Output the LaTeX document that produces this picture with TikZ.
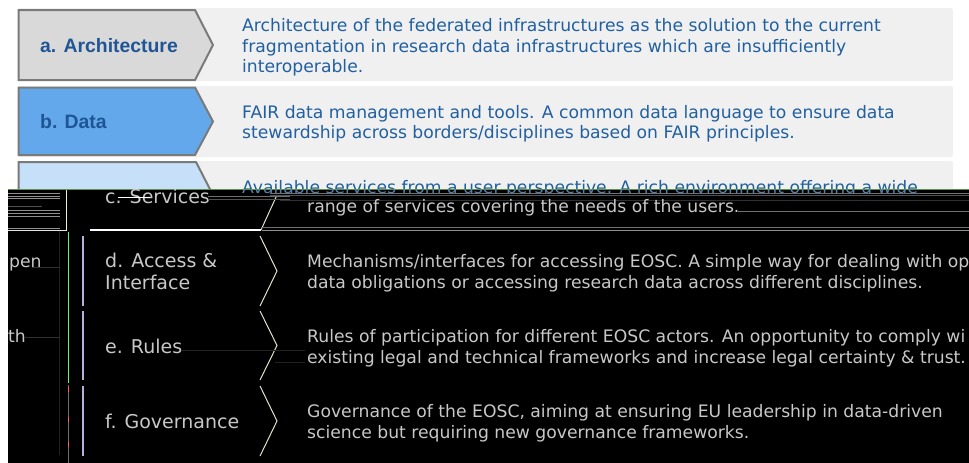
\documentclass[tikz,border=0pt]{standalone}
\usepackage{fontspec}
\setmainfont{DejaVu Sans}
\newfontfamily\arialfont{Liberation Sans}
\definecolor{panelgray}{HTML}{F0F0F0}
\definecolor{chevA}{HTML}{D9D9D9}
\definecolor{chevB}{HTML}{62A8EA}
\definecolor{chevC}{HTML}{C5E0F8}
\definecolor{chevborder}{HTML}{7A7A7A}
\definecolor{descblue}{HTML}{2160A0}
\definecolor{labelblue}{HTML}{1F5594}
\definecolor{ghost}{HTML}{C8C8C8}
\definecolor{ghostedge}{HTML}{E2E2C8}
\definecolor{ghostleft}{HTML}{B8B0DC}
\definecolor{glitchgreen}{HTML}{74F070}
\definecolor{topgreen}{HTML}{5E8F4E}
\definecolor{glitchyellow}{HTML}{F0F0C0}
\definecolor{lineA}{HTML}{909090}
\definecolor{lineB}{HTML}{707070}
\definecolor{lineC}{HTML}{505050}
\definecolor{lineD}{HTML}{303030}
\definecolor{lineE}{HTML}{222222}
\begin{document}
\begin{tikzpicture}[x=1pt,y=-1pt,
  desc/.style={anchor=base west, inner sep=0pt, font=\fontsize{17.2}{20.5}\selectfont, text=descblue},
  ddesc/.style={desc, text=ghost},
  toplabel/.style={anchor=base west, inner sep=0pt, font=\arialfont\bfseries\fontsize{19.4}{22}\selectfont, text=labelblue},
  dlabel/.style={anchor=base west, inner sep=0pt, font=\fontsize{19}{22}\selectfont, text=ghost},
  chev/.style={draw=chevborder, line width=2pt, line join=miter},
  panel/.style={fill=panelgray, rounded corners=2pt},
  ghostline/.style={draw=ghostedge, line width=1pt},
  leftline/.style={draw=ghostleft, line width=1.1pt},
  artifact/.style={line width=0.6pt}
]
\useasboundingbox (0,0) rectangle (969,463);
\begin{scope}
\clip (0,0) rectangle (969,463);
\fill[white] (0,0) rectangle (969,463);
% ---------- upper, intact part ----------
\fill[panel] (18,8) rectangle (953,81);
\fill[panel] (18,86) rectangle (953,157);
\fill[panel] (18,161) rectangle (953,236);
\draw[chev, fill=chevA] (18.5,10) -- (195,10) -- (213,45) -- (195,80) -- (18.5,80) -- cycle;
\draw[chev, fill=chevB] (18.5,87.5) -- (195,87.5) -- (213,121.5) -- (195,155) -- (18.5,155) -- cycle;
\draw[chev, fill=chevC] (18.5,162) -- (196,162) -- (214,197) -- (196,232) -- (18.5,232) -- cycle;
\node[toplabel] (la) at (40,52.5) {a. Architecture};
\node[toplabel] (lb) at (40,128.3) {b. Data};
\node[desc] (a1) at (242,31.5) {Architecture of the federated infrastructures as the solution to the current};
\node[desc] (a2) at (242,52) {fragmentation in research data infrastructures which are insufficiently};
\node[desc] (a3) at (242,72.5) {interoperable.};
\node[desc] (b1) at (242,118) {FAIR data management and tools. A common data language to ensure data};
\node[desc] (b2) at (242,138.5) {stewardship across borders/disciplines based on FAIR principles.};
\node[desc] (c1) at (242,193) {Available services from a user perspective. A rich environment offering a wide};
% ---------- lower, glitched part ----------
\fill[black] (8,189.5) rectangle (969,463);
\begin{scope}
\clip (230,189.5) rectangle (969,193.2);
\node[desc, text=descblue!70!ghost] (c1b) at (242,193) {Available services from a user perspective. A rich environment offering a wide};
\end{scope}
\begin{scope}
\clip (8,189.5) rectangle (969,463);
\draw[topgreen, line width=0.8pt] (8,189.8) -- (969,189.8);
% left strip artifacts
\draw[artifact, lineA] (8,193.3) -- (60,193.3) (8,196) -- (60,196) (8,198.3) -- (60,198.3);
\draw[artifact, lineC] (8,206) -- (42,206);
\draw[artifact, lineA] (8,210.7) -- (60,210.7) (8,213.3) -- (60,213.3) (8,216) -- (60,216);
\draw[artifact, lineA] (8,228.3) -- (60,228.3);
\draw[line width=1pt, white!80!gray] (8,230.7) -- (67,230.7);
\draw[line width=1pt, glitchyellow] (66.7,189.5) -- (66.7,230.7);
\draw[line width=1pt, glitchgreen] (68.3,232) -- (68.3,383);
\draw[line width=0.8pt, lineB] (68.3,385) -- (68.3,463);
\draw[line width=1.3pt, red!65] (68.3,387) -- (68.3,392) (68.3,417) -- (68.3,422) (68.3,442) -- (68.3,447);
\draw[line width=0.5pt, lineE] (59.5,231) -- (59.5,455);
\draw[artifact, lineD] (32,267) -- (60,267) (25,337) -- (60,337);
% wrapped fragments
\node[ddesc, anchor=base west] (openfrag) at (9,267.5) {pen};
\node[ddesc, anchor=base west] (withfrag) at (8,342.5) {th};
% row c remnants
\draw[ghostline] (277,195) -- (261,230);
\draw[line width=1.4pt, white] (90,230) -- (261,230);
\draw[artifact, lineB] (270,192.8) -- (969,192.8);
\draw[artifact, lineC] (270,195.2) -- (969,195.2);
\draw[artifact, lineD] (280,200) -- (969,200);
\draw[artifact, lineB] (738,211) -- (969,211);
\draw[artifact, lineB] (262,227) -- (969,227);
\draw[artifact, lineA] (262,230) -- (969,230);
\node[dlabel] (lc) at (105,203) {c. Services};
\draw[line width=1pt, white] (118,197) -- (150,197);
\draw[artifact, lineB] (208,196.5) -- (290,196.5);
\draw[artifact, lineC] (208,199) -- (290,199);
\node[ddesc] (c2) at (307,212) {range of services covering the needs of the users.};
% row d
\draw[leftline] (83,236) -- (83,306);
\draw[ghostline] (260,236) -- (277,271) -- (260,306);
\node[dlabel] (ld1) at (105,267) {d. Access \&};
\node[dlabel] (ld2) at (105,289) {Interface};
\node[ddesc] (d1) at (307,267.5) {Mechanisms/interfaces for accessing EOSC. A simple way for dealing with op};
\node[ddesc] (d2) at (307,288) {data obligations or accessing research data across different disciplines.};
% row e
\draw[leftline] (83,311) -- (83,380);
\draw[ghostline] (260,311) -- (277,345.5) -- (260,380);
\draw[artifact, lineE] (182,350) -- (305,350) (275,362) -- (305,362);
\node[dlabel] (le) at (105,353) {e. Rules};
\node[ddesc] (e1) at (307,342.5) {Rules of participation for different EOSC actors. An opportunity to comply wi};
\node[ddesc] (e2) at (307,363) {existing legal and technical frameworks and increase legal certainty \& trust.};
% row f
\draw[leftline] (83,386) -- (83,456);
\draw[ghostline] (260,386) -- (277,421) -- (260,456);
\node[dlabel] (lf) at (105,428) {f. Governance};
\node[ddesc] (f1) at (307,417.5) {Governance of the EOSC, aiming at ensuring EU leadership in data-driven};
\node[ddesc] (f2) at (307,438) {science but requiring new governance frameworks.};
\end{scope}
\end{scope}
\end{tikzpicture}
\end{document}
